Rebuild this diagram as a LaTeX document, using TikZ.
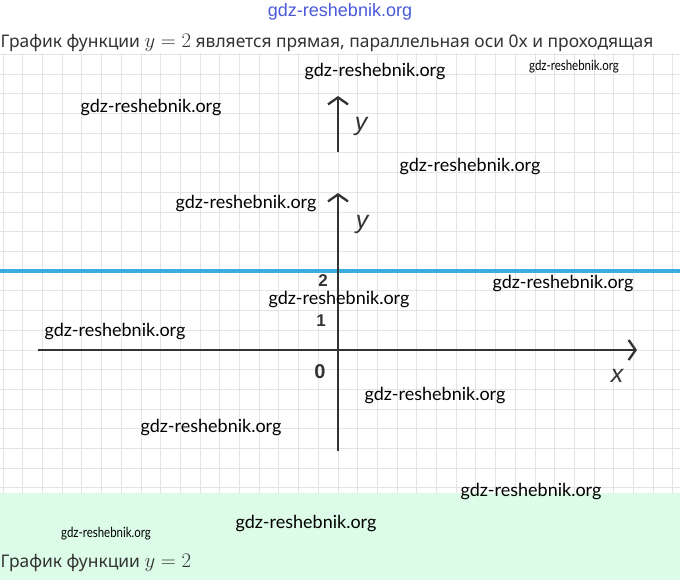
\documentclass[tikz,border=0pt]{standalone}
\usepackage{fontspec}
\usepackage{graphicx}
\setmainfont{Noto Sans}
\newfontfamily\wmfont{Lato}
\newfontfamily\labfont{Liberation Sans}
\usetikzlibrary{arrows.meta}
\definecolor{gridc}{HTML}{E4E4E4}
\definecolor{band}{HTML}{DCFCE8}
\definecolor{lineblue}{HTML}{3AAEE0}
\definecolor{axisc}{HTML}{333333}
\definecolor{capc}{HTML}{333333}
\definecolor{topwm}{HTML}{4A5AD8}
\newcommand{\bigmath}[1]{{\fontsize{22}{24}\selectfont$#1$}}
\tikzset{
  wm/.style={font=\wmfont\fontsize{18}{21}\selectfont, text=black, inner sep=0pt},
  wmsmall/.style={font=\wmfont\fontsize{14}{16}\selectfont, text=black, inner sep=0pt},
  axisline/.style={line width=2.6pt, draw=axisc, -{Straight Barb[length=7pt,width=20pt,line width=2.3pt]}},
  axlabel/.style={font=\labfont\itshape\fontsize{25}{27}\selectfont, text=axisc, inner sep=0pt},
  ticklab/.style={font=\labfont\bfseries\fontsize{17}{19}\selectfont, text=axisc, inner sep=0pt},
  caption/.style={font=\fontsize{17.4}{20}\selectfont, text=capc, inner sep=0pt, anchor=base west},
}
\begin{document}
\begin{tikzpicture}[x=1pt,y=-1pt]
\useasboundingbox (0,0) rectangle (680,580);
\fill[white] (0,0) rectangle (680,580);
% grid
\foreach \k in {-17,...,17} {
  \draw[gridc, line width=1pt] ({338+\k*19.7},53) -- ({338+\k*19.7},493);
}
\foreach \k in {-15,...,7} {
  \draw[gridc, line width=1pt] (0,{350+\k*19.7}) -- (680,{350+\k*19.7});
}
% green band
\fill[band] (0,493) rectangle (680,580);
% top watermark
\node[font=\labfont\fontsize{18}{20}\selectfont, text=topwm, inner sep=0pt] (topmark) at (340,12) {gdz-reshebnik.org};
% captions
\node[caption] (cap1) at (0.5,48) {График функции \bigmath{y=2} является прямая, параллельная оси 0x и проходящая};
\node[caption] (cap2) at (0.5,567) {График функции \bigmath{y=2}};
% blue line
\coordinate (bl) at (0,271);
\coordinate (br) at (680,271);
\draw[lineblue, line width=4pt] (bl) -- (br);
% axes
\coordinate (xs) at (38,350);
\coordinate (xe) at (637,350);
\coordinate (ys) at (338,451);
\coordinate (ye) at (338,193);
\draw[axisline] (xs) -- (xe);
\draw[axisline] (ys) -- (ye);
% extra small y arrow
\coordinate (y2s) at (338,152);
\coordinate (y2e) at (338,96);
\draw[axisline] (y2s) -- (y2e);
\node[axlabel] (ylab2) at (361,126) {y};
\node[axlabel] (ylab) at (362,224) {y};
\node[axlabel] (xlab) at (617,376) {x};
\node[ticklab, font=\labfont\bfseries\fontsize{20}{22}\selectfont] (zero) at (320,372) {0};
\node[ticklab] (one) at (321,321) {1};
\node[ticklab] (two) at (323,281) {2};
% watermarks
\node[wm] (w1) at (375,72) {gdz-reshebnik.org};
\node[wmsmall] (w2) at (574,67) {\scalebox{0.82}[1]{gdz-reshebnik.org}};
\node[wm] (w3) at (151,108) {gdz-reshebnik.org};
\node[wm] (w4) at (470,167) {gdz-reshebnik.org};
\node[wm] (w5) at (246,204) {gdz-reshebnik.org};
\node[wm] (w6) at (563,284) {gdz-reshebnik.org};
\node[wm] (w7) at (339,300) {gdz-reshebnik.org};
\node[wm] (w8) at (115,332) {gdz-reshebnik.org};
\node[wm] (w9) at (435,396) {gdz-reshebnik.org};
\node[wm] (w10) at (211,428) {gdz-reshebnik.org};
\node[wm] (w11) at (531,492) {gdz-reshebnik.org};
\node[wm] (w12) at (306,524) {gdz-reshebnik.org};
\node[wmsmall] (w13) at (106,534) {\scalebox{0.82}[1]{gdz-reshebnik.org}};
\end{tikzpicture}
\end{document}
